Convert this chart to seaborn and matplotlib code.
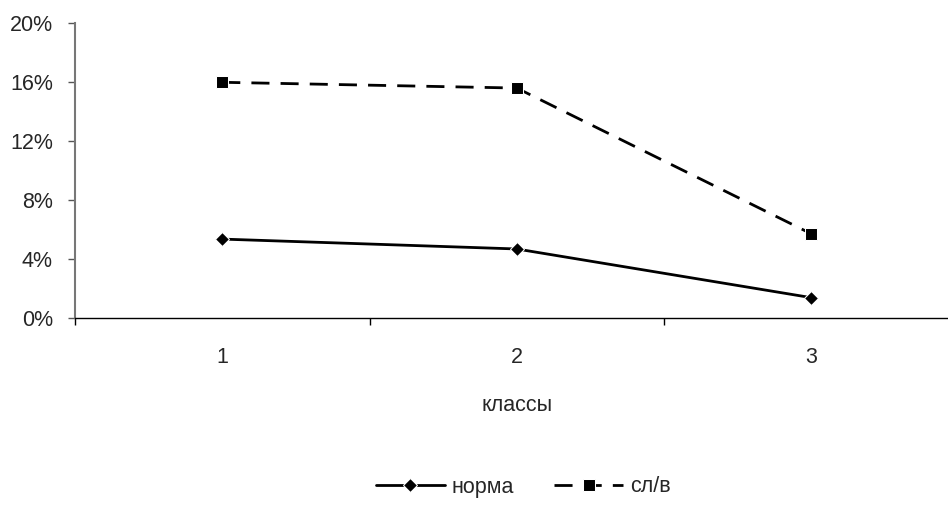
import matplotlib
matplotlib.use("Agg")
import matplotlib.pyplot as plt
import seaborn as sns
import pandas as pd
from matplotlib.ticker import FuncFormatter, FixedLocator

classes = [1, 2, 3]
norma = [5.35, 4.68, 1.38]
slv = [15.98, 15.59, 5.71]
series_names = ["норма", "сл/в"]
y_ticks = [0, 4, 8, 12, 16, 20]

df = pd.DataFrame({
    "класс": classes * 2,
    "value": norma + slv,
    "series": [series_names[0]] * 3 + [series_names[1]] * 3,
})

sns.set_theme(style="white")
plt.rcParams["font.family"] = ["Liberation Sans", "DejaVu Sans"]
FS = 15.5

fig = plt.figure(figsize=(9.48, 5.08), dpi=100)
ax = fig.add_axes([75 / 948, 1 - 318 / 508, (958.5 - 75) / 948, (318 - 23) / 508])

sns.lineplot(data=df, x="класс", y="value", hue="series", style="series",
             palette={"норма": "black", "сл/в": "black"},
             markers={"норма": "D", "сл/в": "s"},
             dashes={"норма": "", "сл/в": (6.5, 4)},
             linewidth=2, markersize=8, ax=ax, legend=True)
for ln in ax.lines:
    if ln.get_marker() == "D":
        ln.set_markersize(7)

ax.set_xlim(0.5, 3.5)
ax.set_ylim(0, 20)
ax.yaxis.set_major_locator(FixedLocator(y_ticks))
ax.yaxis.set_major_formatter(FuncFormatter(lambda v, p: f"{int(v)}%"))
ax.xaxis.set_major_locator(FixedLocator(classes))
ax.xaxis.set_minor_locator(FixedLocator([0.5, 1.5, 2.5, 3.5]))
ax.tick_params(axis="x", which="major", length=0, labelsize=FS, pad=21)
ax.tick_params(axis="x", which="minor", length=5, width=1, color="black", direction="out", bottom=True)
ax.tick_params(axis="y", length=5, width=1, color="#555555", direction="out", labelsize=FS, pad=11, left=True)

for s in ["top", "right"]:
    ax.spines[s].set_visible(False)
ax.spines["left"].set_color("#777777")
ax.spines["left"].set_linewidth(1.5)
ax.spines["bottom"].set_color("black")
ax.spines["bottom"].set_linewidth(1)

ax.set_xlabel("классы", fontsize=FS, labelpad=19)
ax.set_ylabel("")

handles, labels = ax.get_legend_handles_labels()
ax.legend(handles, labels, loc="center", bbox_to_anchor=(523 / 948, 1 - 487 / 508),
          bbox_transform=fig.transFigure, ncol=2, frameon=False, fontsize=FS,
          handlelength=3.2, columnspacing=1.9, handletextpad=0.3)

fig.savefig("out.png", dpi=100)
